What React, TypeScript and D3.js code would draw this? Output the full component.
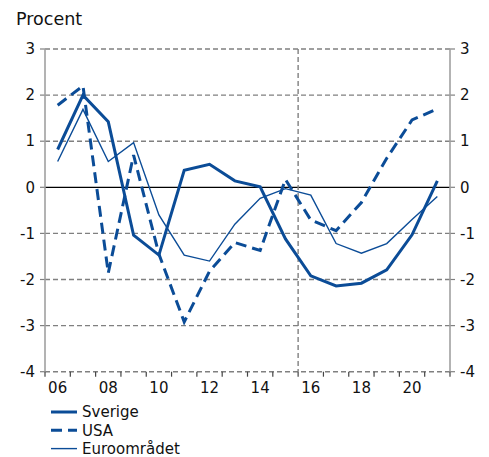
import React from "react";
import * as d3 from "d3";

const years = [2006, 2007, 2008, 2009, 2010, 2011, 2012, 2013, 2014, 2015, 2016, 2017, 2018, 2019, 2020, 2021];
const sverige = [0.82, 2.0, 1.42, -1.04, -1.47, 0.37, 0.5, 0.14, 0.01, -1.12, -1.92, -2.14, -2.08, -1.79, -1.03, 0.14];
const usa = [1.78, 2.2, -1.86, 0.7, -1.45, -2.92, -1.82, -1.2, -1.37, 0.17, -0.71, -0.94, -0.33, 0.63, 1.46, 1.7];
const euro = [0.56, 1.69, 0.56, 0.97, -0.6, -1.47, -1.6, -0.8, -0.24, -0.03, -0.17, -1.22, -1.43, -1.22, -0.7, -0.2];
const yTicks = [3, 2, 1, 0, -1, -2, -3, -4];
const xLabelYears = [2006, 2008, 2010, 2012, 2014, 2016, 2018, 2020];
const forecastStart = 2016;
const legendItems = [
  { name: "Sverige", width: 3, dash: "" },
  { name: "USA", width: 3, dash: "11,6" },
  { name: "Euroområdet", width: 1.4, dash: "" },
];

const W = 489;
const H = 457;
const L = 45;
const R = 450;
const T = 49;
const B = 371.7;
const BLUE = "#0b4c97";
const GRID = "#808080";
const FONT = "'DejaVu Sans', Verdana, sans-serif";

export default function App() {
  const x = d3.scaleBand<number>().domain(years).range([L, R]).padding(0);
  const y = d3.scaleLinear().domain([-4, 3]).range([B, T]);
  const cx = (yr: number) => (x(yr) as number) + x.bandwidth() / 2;
  const line = d3
    .line<number>()
    .x((_, i) => cx(years[i]))
    .y((d) => y(d));
  const boundaries = years.map((yr) => x(yr) as number).concat([R]);
  const vx = x(forecastStart) as number;

  return (
    <svg width={W} height={H} style={{ position: "absolute", left: 0, top: 0 }} fontFamily={FONT}>
      <text x={16} y={24.5} fontSize={17.5} fill="#111">Procent</text>
      {yTicks.map((t) => (
        <g key={t}>
          {t === 0 ? (
            <line x1={L} x2={R} y1={y(t)} y2={y(t)} stroke="#000" strokeWidth={1.3} />
          ) : (
            <line x1={L} x2={R} y1={y(t)} y2={y(t)} stroke={GRID} strokeWidth={1.4} strokeDasharray="5,3" />
          )}
          <line x1={L - 5} x2={L} y1={y(t)} y2={y(t)} stroke={GRID} strokeWidth={1.2} />
          <line x1={R} x2={R + 5} y1={y(t)} y2={y(t)} stroke={GRID} strokeWidth={1.2} />
          <text x={35} y={y(t)} dy="0.35em" textAnchor="end" fontSize={15} fill="#111">{t}</text>
          <text x={460} y={y(t)} dy="0.35em" textAnchor="start" fontSize={15} fill="#111">{t}</text>
        </g>
      ))}
      <line x1={vx} x2={vx} y1={T} y2={B} stroke={GRID} strokeWidth={1.4} strokeDasharray="5,3" />
      <line x1={L} x2={L} y1={T} y2={B} stroke="#a0a0a0" strokeWidth={1.6} />
      <line x1={R} x2={R} y1={T} y2={B} stroke="#a0a0a0" strokeWidth={1.6} />
      {boundaries.map((b, i) => (
        <line key={i} x1={b} x2={b} y1={B} y2={B + 5} stroke="#444" strokeWidth={1.2} />
      ))}
      {xLabelYears.map((yr) => (
        <text key={yr} x={cx(yr)} y={393} textAnchor="middle" fontSize={15} fill="#111">
          {String(yr % 100).padStart(2, "0")}
        </text>
      ))}
      <path d={line(euro) || ""} fill="none" stroke={BLUE} strokeWidth={1.4} />
      <path d={line(usa) || ""} fill="none" stroke={BLUE} strokeWidth={3} strokeDasharray="11,6" />
      <path d={line(sverige) || ""} fill="none" stroke={BLUE} strokeWidth={3} />
      {legendItems.map((it, i) => {
        const ly = 412 + i * 18.3;
        return (
          <g key={it.name}>
            <line x1={51} x2={77} y1={ly} y2={ly} stroke={BLUE} strokeWidth={it.width} strokeDasharray={it.dash || undefined} />
            <text x={82} y={ly} dy="0.35em" fontSize={15} fill="#111">{it.name}</text>
          </g>
        );
      })}
    </svg>
  );
}
